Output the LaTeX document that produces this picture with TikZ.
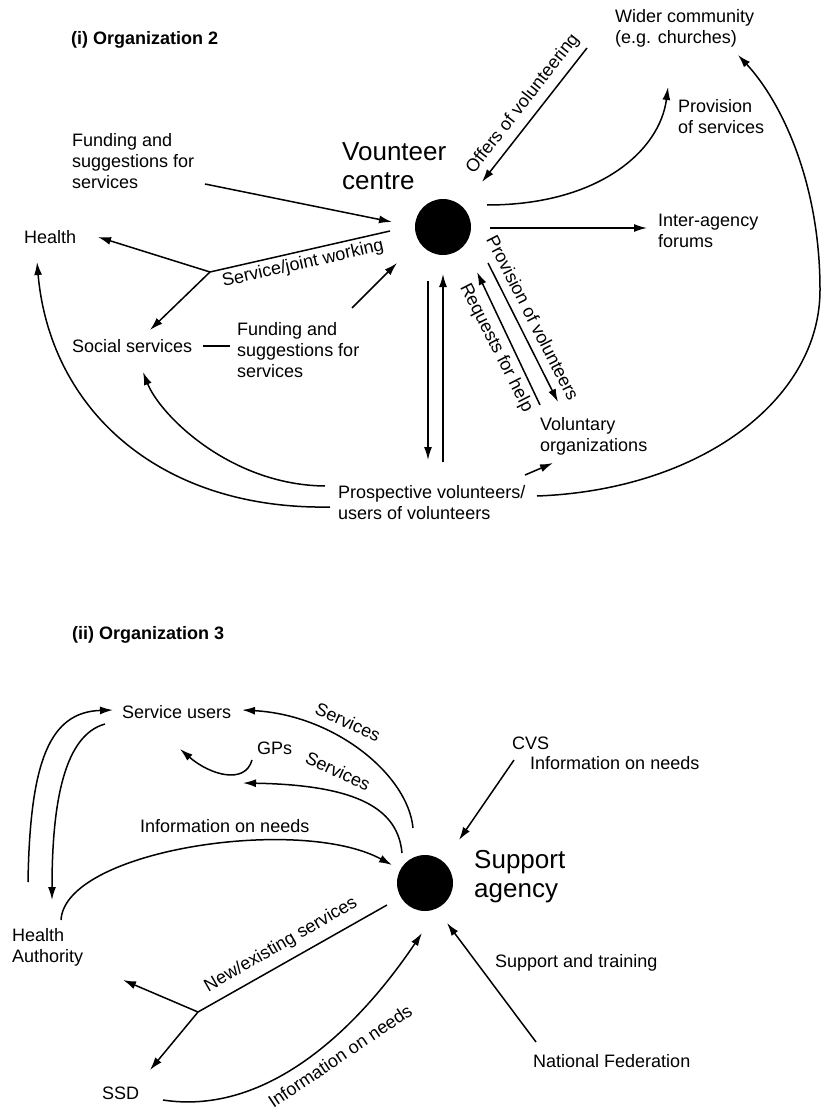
\documentclass[tikz,border=0pt]{standalone}
\usepackage{fontspec}
\setmainfont{Liberation Sans}
\usetikzlibrary{arrows.meta}
\begin{document}
\begin{tikzpicture}[x=1pt,y=-1pt,
  lbl/.style={inner sep=0pt, anchor=west, align=left, font=\fontsize{18}{21}\selectfont},
  big/.style={inner sep=0pt, anchor=west, align=left, font=\fontsize{26}{29}\selectfont},
  ttl/.style={inner sep=0pt, anchor=west, font=\fontsize{18}{21}\selectfont\bfseries},
  rot/.style={inner sep=0pt, font=\fontsize{18}{21}\selectfont},
  dot/.style={circle, fill=black, minimum size=56pt, inner sep=0pt},
  link/.style={line width=1.5pt},
  arr/.style={link, -{Latex[length=13pt,width=8pt]}},
]
\fill[white] (0,0) rectangle (825,1110);
\useasboundingbox (0,0) rectangle (825,1110);

% ---------- (i) Organization 2 ----------
\node[ttl] (title1) at (71,40) {(i) Organization 2};
\node[dot] (vc) at (443,227) {};
\node[big] (vclabel) at (342,166) {Vounteer\\centre};
\node[lbl] (wider) at (615,28) {Wider community\\(e.g. churches)};
\node[lbl] (provs) at (678,117) {Provision\\of services};
\node[lbl] (inter) at (658,231) {Inter-agency\\forums};
\node[lbl] (fund1) at (72,161) {Funding and\\suggestions for\\services};
\node[lbl] (health) at (24,237) {Health};
\node[lbl] (social) at (72,346) {Social services};
\node[lbl] (fund2) at (237,350) {Funding and\\suggestions for\\services};
\node[lbl] (prosp) at (338,503) {Prospective volunteers/\\users of volunteers};
\node[lbl] (volorg) at (540,436) {Voluntary\\organizations};

% connector end points
\coordinate (offA) at (587,48);   \coordinate (offB) at (482,182);
\coordinate (psA) at (487,205);   \coordinate (psB) at (668,87);
\coordinate (iaA) at (490,228);   \coordinate (iaB) at (647,228);
\coordinate (f1A) at (205,184);   \coordinate (f1B) at (392,222);
\coordinate (sjA) at (390,231);   \coordinate (sjJ) at (210,272);
\coordinate (sjH) at (98,237);    \coordinate (sjS) at (150,330);
\coordinate (f2A) at (352,308);   \coordinate (f2B) at (397,263);
\coordinate (dashA) at (203,346); \coordinate (dashB) at (230,346);
\coordinate (pssA) at (325,486);  \coordinate (pssB) at (143,372);
\coordinate (phA) at (330,507);   \coordinate (phB) at (37,262);
\coordinate (dnA) at (428,281);   \coordinate (dnB) at (428,460);
\coordinate (upA) at (443,462);   \coordinate (upB) at (443,274);
\coordinate (pvA) at (488,263);   \coordinate (pvB) at (558,402);
\coordinate (rhA) at (540,405);   \coordinate (rhB) at (477,272);
\coordinate (voA) at (525,475);   \coordinate (voB) at (553,463);
\coordinate (wcA) at (537,496);   \coordinate (wcM) at (820,290);
\coordinate (wcB) at (738,55);

\draw[arr] (offA) -- (offB);
\node[rot, rotate=52] (offlbl) at (523,104) {Offers of volunteering};
\draw[arr] (psA) .. controls (600,205) and (660,150) .. (psB);
\draw[arr] (iaA) -- (iaB);
\draw[arr] (f1A) -- (f1B);
\draw[link] (sjA) -- (sjJ);
\draw[arr] (sjJ) -- (sjH);
\draw[arr] (sjJ) -- (sjS);
\node[rot, rotate=12.8] (sjlbl) at (303,264) {Service/joint working};
\draw[arr] (f2A) -- (f2B);
\draw[link] (dashA) -- (dashB);
\draw[arr] (pssA) .. controls (230,485) and (160,415) .. (pssB);
\draw[arr] (phA) .. controls (160,510) and (50,410) .. (phB);
\draw[arr] (dnA) -- (dnB);
\draw[arr] (upA) -- (upB);
\draw[arr] (pvA) -- (pvB);
\node[rot, rotate=-63] (pvlbl) at (533,318) {Provision of volunteers};
\draw[arr] (rhA) -- (rhB);
\node[rot, rotate=-63] (rhlbl) at (496,348) {Requests for help};
\draw[arr] (voA) -- (voB);
\draw[arr] (wcA) .. controls (700,490) and (820,400) .. (wcM)
               .. controls (820,180) and (780,100) .. (wcB);

% ---------- (ii) Organization 3 ----------
\node[ttl] (title2) at (72,635) {(ii) Organization 3};
\node[dot] (sa) at (425,883) {};
\node[big] (salabel) at (474,877) {Support\\agency};
\node[lbl] (su) at (122,712) {Service users};
\node[lbl] (gps) at (257,748) {GPs};
\node[lbl] (info1) at (140,826) {Information on needs};
\node[lbl] (ha) at (12,947) {Health\\Authority};
\node[lbl] (ssd) at (102,1093) {SSD};
\node[lbl] (cvs) at (512,743) {CVS};
\node[lbl] (cvsinfo) at (530,763) {Information on needs};
\node[lbl] (sat) at (495,963) {Support and training};
\node[lbl] (nf) at (533,1061) {National Federation};

\coordinate (s1A) at (413,828);  \coordinate (s1B) at (242,710);
\coordinate (s2A) at (402,853);  \coordinate (s2B) at (243,783);
\coordinate (gpA) at (252,760);  \coordinate (gpB) at (180,749);
\coordinate (i1A) at (61,920);   \coordinate (i1B) at (392,865);
\coordinate (luA) at (28,882);   \coordinate (luB) at (113,710);
\coordinate (ldA) at (105,724);  \coordinate (ldB) at (52,900);
\coordinate (cvA) at (514,760);  \coordinate (cvB) at (459,840);
\coordinate (neA) at (387,905);  \coordinate (neJ) at (198,1012);
\coordinate (neH) at (123,980);  \coordinate (neS) at (150,1070);
\coordinate (i2A) at (163,1100); \coordinate (i2B) at (422,933);
\coordinate (nfA) at (536,1042); \coordinate (nfB) at (447,923);

\draw[arr] (s1A) .. controls (408,775) and (335,715) .. (s1B);
\node[rot, rotate=-24] (s1lbl) at (348,722) {Services};
\draw[arr] (s2A) .. controls (398,810) and (360,785) .. (s2B);
\node[rot, rotate=-25] (s2lbl) at (338,771) {Services};
\draw[arr] (gpA) .. controls (245,785) and (210,775) .. (gpB);
\draw[arr] (i1A) .. controls (65,850) and (300,815) .. (i1B);
\draw[arr] (luA) .. controls (30,760) and (50,712) .. (luB);
\draw[arr] (ldA) .. controls (65,735) and (52,800) .. (ldB);
\draw[arr] (cvA) -- (cvB);
\draw[link] (neA) -- (neJ);
\draw[arr] (neJ) -- (neH);
\draw[arr] (neJ) -- (neS);
\node[rot, rotate=30] (nelbl) at (281,945) {New/existing services};
\draw[arr] (i2A) .. controls (260,1115) and (350,1040) .. (i2B);
\node[rot, rotate=34] (i2lbl) at (340,1056) {Information on needs};
\draw[arr] (nfA) -- (nfB);
\end{tikzpicture}
\end{document}
